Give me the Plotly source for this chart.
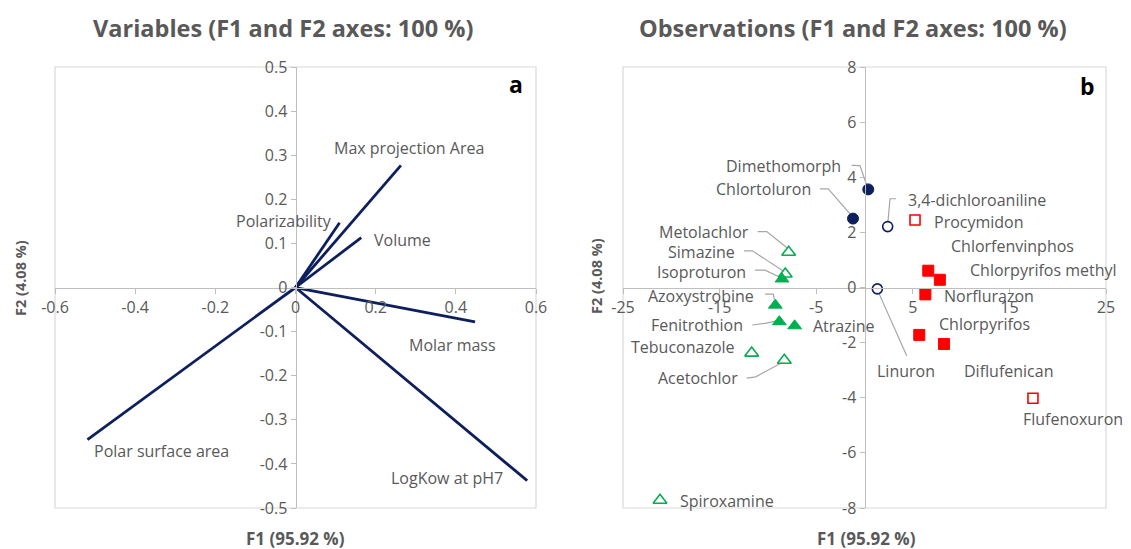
import plotly.graph_objects as go

# ---------------- data ----------------
var_names = ["Max projection Area", "Polarizability", "Volume", "Molar mass",
             "LogKow at pH7", "Polar surface area"]
var_f1 = [0.263, 0.110, 0.164, 0.448, 0.578, -0.519]
var_f2 = [0.277, 0.147, 0.113, -0.078, -0.438, -0.345]

obs_names = ["Dimethomorph", "Chlortoluron", "3,4-dichloroaniline", "Linuron",
             "Procymidon", "Flufenoxuron",
             "Chlorfenvinphos", "Chlorpyrifos methyl", "Norflurazon", "Chlorpyrifos", "Diflufenican",
             "Metolachlor", "Simazine", "Isoproturon", "Azoxystrobine", "Fenitrothion",
             "Atrazine", "Tebuconazole", "Acetochlor", "Spiroxamine"]
obs_f1 = [0.39, -1.19, 2.40, 1.33,
          5.23, 17.44,
          6.6, 7.8, 6.3, 5.67, 8.23,
          -7.85, -8.2, -8.54, -9.23, -8.82,
          -7.23, -11.68, -8.3, -21.17]
obs_f2 = [3.56, 2.50, 2.21, -0.05,
          2.45, -4.02,
          0.61, 0.28, -0.25, -1.72, -2.05,
          1.28, 0.49, 0.31, -0.64, -1.24,
          -1.39, -2.38, -2.64, -7.72]
obs_group = ["navy_filled", "navy_filled", "navy_open", "navy_open",
             "red_open", "red_open",
             "red_filled", "red_filled", "red_filled", "red_filled", "red_filled",
             "green_open", "green_open", "green_filled", "green_filled", "green_filled",
             "green_filled", "green_open", "green_open", "green_open"]

var_xticks = [-0.6, -0.4, -0.2, 0, 0.2, 0.4, 0.6]
var_xticklabels = ["-0.6", "-0.4", "-0.2", "0", "0.2", "0.4", "0.6"]
var_yticks = [-0.5, -0.4, -0.3, -0.2, -0.1, 0, 0.1, 0.2, 0.3, 0.4, 0.5]
var_yticklabels = ["-0.5", "-0.4", "-0.3", "-0.2", "-0.1", "0", "0.1", "0.2", "0.3", "0.4", "0.5"]
obs_xticks = [-25, -15, -5, 5, 15, 25]
obs_xticklabels = ["-25", "-15", "-5", "5", "15", "25"]
obs_yticks = [-8, -6, -4, -2, 0, 2, 4, 6, 8]
obs_yticklabels = ["-8", "-6", "-4", "-2", "0", "2", "4", "6", "8"]

# ---------------- layout / style ----------------
PAGE_W, PAGE_H = 1131, 549
BODY = 8                       # default page body margin (figure is offset by it)
W, H = PAGE_W, PAGE_H


def fx(px):
    return (px - BODY) / W


def fy(py):
    return 1 - (py - BODY) / H


FONT = "Open Sans"
GREY = "#595959"
NAVY = "#0d1f5c"
RED = "#ff0000"
GREEN = "#00b050"
AXIS = "#bfbfbf"
FRAME = "#d9d9d9"
LEADER = "#a6a6a6"
LABEL_SIZE = 16

dom1 = [fx(55), fx(536)]
dom2 = [fx(623), fx(1106)]
ydom = [fy(508), fy(67)]
ymid = (ydom[0] + ydom[1]) / 2

# label placement for the variables chart (x, y, xanchor)
var_label_pos = {
    "Max projection Area": (0.091, 0.317, "left"),
    "Polarizability": (-0.154, 0.150, "left"),
    "Volume": (0.192, 0.107, "left"),
    "Molar mass": (0.278, -0.131, "left"),
    "LogKow at pH7": (0.234, -0.433, "left"),
    "Polar surface area": (-0.508, -0.371, "left"),
}

# label placement for observations chart (x, y, xanchor)
obs_label_pos = {
    "Dimethomorph": (-2.25, 4.42, "right"),
    "Chlortoluron": (-5.35, 3.56, "right"),
    "3,4-dichloroaniline": (4.27, 3.19, "left"),
    "Linuron": (4.33, -3.03, "center"),
    "Procymidon": (7.02, 2.39, "left"),
    "Flufenoxuron": (16.2, -4.76, "left"),
    "Chlorfenvinphos": (8.75, 1.52, "left"),
    "Chlorpyrifos methyl": (10.68, 0.64, "left"),
    "Norflurazon": (8.05, -0.30, "left"),
    "Chlorpyrifos": (7.47, -1.33, "left"),
    "Diflufenican": (14.94, -3.03, "center"),
    "Metolachlor": (-11.80, 2.01, "right"),
    "Simazine": (-13.25, 1.30, "right"),
    "Isoproturon": (-12.10, 0.57, "right"),
    "Azoxystrobine": (-11.20, -0.30, "right"),
    "Fenitrothion": (-12.40, -1.36, "right"),
    "Atrazine": (-5.54, -1.39, "left"),
    "Tebuconazole": (-13.20, -2.17, "right"),
    "Acetochlor": (-12.90, -3.29, "right"),
    "Spiroxamine": (-19.34, -7.73, "left"),
}

# leader line paths (label side -> elbow -> marker edge)
obs_leaders = {
    "Dimethomorph": [(-1.33, 4.43), (-0.47, 4.42), (0.21, 3.73)],
    "Chlortoluron": [(-4.61, 3.58), (-3.75, 3.58), (-1.50, 2.67)],
    "3,4-dichloroaniline": [(3.26, 3.22), (2.64, 3.22), (2.43, 2.40)],
    "Metolachlor": [(-11.06, 2.03), (-10.12, 2.03), (-7.99, 1.43)],
    "Simazine": [(-12.47, 1.33), (-11.61, 1.33), (-8.41, 0.60)],
    "Isoproturon": [(-11.34, 0.63), (-10.30, 0.63), (-8.75, 0.37)],
    "Azoxystrobine": [(-10.30, -0.24), (-9.44, -0.24), (-9.34, -0.44)],
    "Fenitrothion": [(-11.61, -1.36), (-10.30, -1.30), (-9.09, -1.21)],
    "Acetochlor": [(-12.19, -3.29), (-11.26, -3.24), (-8.51, -2.72)],
    "Linuron": [(1.53, -0.24), (4.37, -2.48)],
}

group_style = {
    "navy_filled": dict(symbol="circle", color=NAVY, line=dict(color=NAVY, width=1), size=11),
    "navy_open": dict(symbol="circle-open", color=NAVY, line=dict(color=NAVY, width=1.6), size=10),
    "red_filled": dict(symbol="square", color=RED, line=dict(color=RED, width=1), size=11),
    "red_open": dict(symbol="square-open", color=RED, line=dict(color=RED, width=1.6), size=10),
    "green_filled": dict(symbol="triangle-up", color=GREEN, line=dict(color=GREEN, width=1), size=12),
    "green_open": dict(symbol="triangle-up-open", color=GREEN, line=dict(color=GREEN, width=1.6), size=12),
}

fig = go.Figure()

# ---- variables: vectors from origin ----
vx, vy = [], []
for f1, f2 in zip(var_f1, var_f2):
    vx += [0, f1, None]
    vy += [0, f2, None]
fig.add_trace(go.Scatter(x=vx, y=vy, mode="lines", line=dict(color=NAVY, width=2.8),
                         xaxis="x", yaxis="y", hoverinfo="skip", showlegend=False))

# ---- observations: leader lines ----
lx, ly = [], []
for name, pts in obs_leaders.items():
    for px, py in pts:
        lx.append(px)
        ly.append(py)
    lx.append(None)
    ly.append(None)
fig.add_trace(go.Scatter(x=lx, y=ly, mode="lines", line=dict(color=LEADER, width=1.2),
                         xaxis="x2", yaxis="y2", hoverinfo="skip", showlegend=False))

# ---- observations: markers by group ----
for g, st in group_style.items():
    xs = [x for x, gg in zip(obs_f1, obs_group) if gg == g]
    ys = [y for y, gg in zip(obs_f2, obs_group) if gg == g]
    ns = [n for n, gg in zip(obs_names, obs_group) if gg == g]
    fig.add_trace(go.Scatter(x=xs, y=ys, mode="markers", text=ns,
                             marker=dict(symbol=st["symbol"], color=st["color"], size=st["size"],
                                         line=st["line"]),
                             xaxis="x2", yaxis="y2", showlegend=False))

annotations = []
for name in var_names:
    x, y, xa = var_label_pos[name]
    annotations.append(dict(x=x, y=y, xref="x", yref="y", text=name, showarrow=False,
                            xanchor=xa, yanchor="middle",
                            font=dict(family=FONT, size=LABEL_SIZE, color=GREY)))
for name in obs_names:
    x, y, xa = obs_label_pos[name]
    annotations.append(dict(x=x, y=y, xref="x2", yref="y2", text=name, showarrow=False,
                            xanchor=xa, yanchor="middle",
                            font=dict(family=FONT, size=LABEL_SIZE, color=GREY)))

# titles
annotations += [
    dict(x=fx(283), y=fy(28), xref="paper", yref="paper", text="<b>Variables (F1 and F2 axes: 100 %)</b>",
         showarrow=False, font=dict(family=FONT, size=23.5, color=GREY), xanchor="center", yanchor="middle"),
    dict(x=fx(853), y=fy(28), xref="paper", yref="paper", text="<b>Observations (F1 and F2 axes: 100 %)</b>",
         showarrow=False, font=dict(family=FONT, size=23.5, color=GREY), xanchor="center", yanchor="middle"),
    dict(x=fx(295), y=fy(538), xref="paper", yref="paper", text="<b>F1 (95.92 %)</b>",
         showarrow=False, font=dict(family=FONT, size=17, color=GREY), xanchor="center", yanchor="middle"),
    dict(x=fx(866), y=fy(538), xref="paper", yref="paper", text="<b>F1 (95.92 %)</b>",
         showarrow=False, font=dict(family=FONT, size=17, color=GREY), xanchor="center", yanchor="middle"),
    dict(x=fx(20), y=fy(278), xref="paper", yref="paper", text="<b>F2 (4.08 %)</b>", textangle=-90,
         showarrow=False, font=dict(family=FONT, size=14.5, color=GREY), xanchor="center", yanchor="middle"),
    dict(x=fx(596), y=fy(276), xref="paper", yref="paper", text="<b>F2 (4.08 %)</b>", textangle=-90,
         showarrow=False, font=dict(family=FONT, size=14.5, color=GREY), xanchor="center", yanchor="middle"),
    dict(x=fx(516), y=fy(84), xref="paper", yref="paper", text="<b>a</b>",
         showarrow=False, font=dict(family=FONT, size=23, color="black"), xanchor="center", yanchor="middle"),
    dict(x=fx(1087), y=fy(86), xref="paper", yref="paper", text="<b>b</b>",
         showarrow=False, font=dict(family=FONT, size=23, color="black"), xanchor="center", yanchor="middle"),
]

tickfont = dict(family=FONT, size=16, color=GREY)
axis_common = dict(showgrid=False, zeroline=False, showline=True, linecolor=AXIS, linewidth=1,
                   ticks="outside", ticklen=5, tickcolor=AXIS, tickfont=tickfont, fixedrange=True,
                   automargin=False)

fig.update_layout(
    width=W, height=H, margin=dict(l=0, r=0, t=0, b=0, pad=0, autoexpand=False),
    paper_bgcolor="white", plot_bgcolor="white",
    xaxis=dict(domain=dom1, range=[-0.6, 0.6], anchor="free", position=ymid,
               tickmode="array", tickvals=var_xticks, ticktext=var_xticklabels, **axis_common),
    yaxis=dict(domain=ydom, range=[-0.5, 0.5], anchor="free", position=(dom1[0] + dom1[1]) / 2,
               tickmode="array", tickvals=var_yticks, ticktext=var_yticklabels, **axis_common),
    xaxis2=dict(domain=dom2, range=[-25, 25], anchor="free", position=ymid,
                tickmode="array", tickvals=obs_xticks, ticktext=obs_xticklabels, **axis_common),
    yaxis2=dict(domain=ydom, range=[-8, 8], anchor="free", position=(dom2[0] + dom2[1]) / 2,
                tickmode="array", tickvals=obs_yticks, ticktext=obs_yticklabels, **axis_common),
    annotations=annotations,
    shapes=[
        dict(type="rect", xref="x domain", yref="y domain", x0=0, x1=1, y0=0, y1=1,
             line=dict(color=FRAME, width=1.2), layer="below"),
        dict(type="rect", xref="x2 domain", yref="y2 domain", x0=0, x1=1, y0=0, y1=1,
             line=dict(color=FRAME, width=1.2), layer="below"),
    ],
    showlegend=False,
)

fig.write_html("out.html")
